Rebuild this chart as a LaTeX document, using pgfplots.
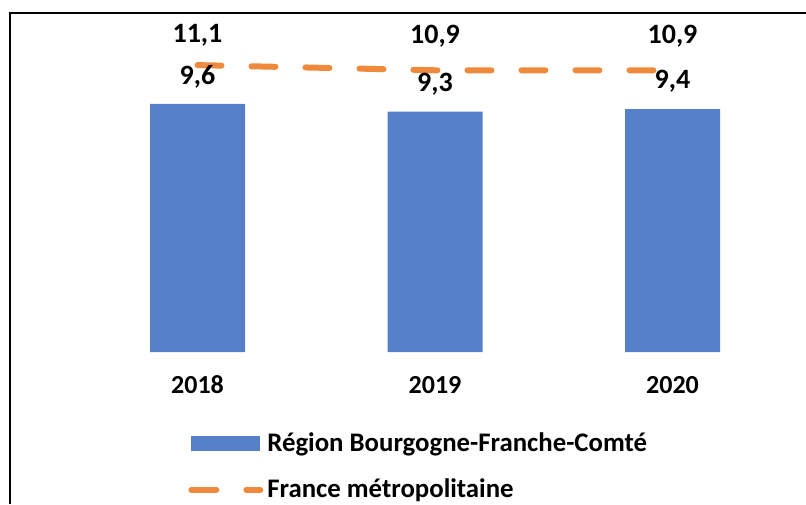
\documentclass[border=0pt]{standalone}
\usepackage{fontspec}
\setmainfont{Carlito}
\usepackage{pgfplots}
\pgfplotsset{compat=1.18}
\usepackage{pgfplotstable}
\definecolor{barblue}{HTML}{5580C8}
\definecolor{lineorange}{HTML}{EF8A3C}

\pgfplotstableread{
x bar line sh
0 9.6 11.1 15
1 9.3 10.9 17
2 9.4 10.9 17
}\datatable

\begin{document}
\begin{tikzpicture}
\useasboundingbox (0,0) rectangle (403pt,252pt);
\draw[line width=1.25pt] (5pt,0pt) -- (5pt,245.5pt) -- (403pt,245.5pt);
\begin{axis}[
  at={(39.375pt,76pt)}, anchor=south west,
  scale only axis, width=356.25pt, height=168pt,
  xmin=-0.5, xmax=2.5, ymin=0, ymax=13,
  clip=false,
  axis line style={draw=none}, tick style={draw=none},
  ytick=\empty, xtick={0,1,2}, xticklabels={2018,2019,2020},
  xticklabel style={anchor=center, yshift=-16.5pt, font=\bfseries\fontsize{13}{16}\selectfont},
  /pgf/number format/.cd, use comma, fixed, fixed zerofill, precision=1, assume math mode=true,
  /pgfplots/.cd,
  legend style={at={(0.1448,-0.214)}, anchor=north west, draw=none, fill=none,
    font=\bfseries\fontsize{13.4}{16}\selectfont, row sep=8.4pt},
  legend cell align=left,
]
\addplot[ybar, bar shift=0pt, bar width=47.5pt, fill=barblue, draw=none,
  nodes near coords,
  nodes near coords style={anchor=center, yshift=13.75pt, text=black, font=\bfseries\fontsize{14}{17}\selectfont},
  legend image code/.code={\fill[barblue] (0pt,-3.75pt) rectangle (34.5pt,3.75pt);}
] table[x=x, y=bar] {\datatable};
\addlegendentry{Région Bourgogne-Franche-Comté}
\addplot[lineorange, line width=3pt, line cap=round, dash pattern=on 12pt off 15pt, mark=none,
  nodes near coords,
  visualization depends on={\thisrow{sh} \as \sh},
  nodes near coords style={anchor=center, yshift=\sh pt, text=black, font=\bfseries\fontsize{14}{17}\selectfont},
  legend image code/.code={\draw[lineorange, line width=3pt, line cap=round, dash pattern=on 12.5pt off 15pt] (0pt,0pt) -- (34.5pt,0pt);}
] table[x=x, y=line] {\datatable};
\addlegendentry{France métropolitaine}
\end{axis}
\end{tikzpicture}
\end{document}
